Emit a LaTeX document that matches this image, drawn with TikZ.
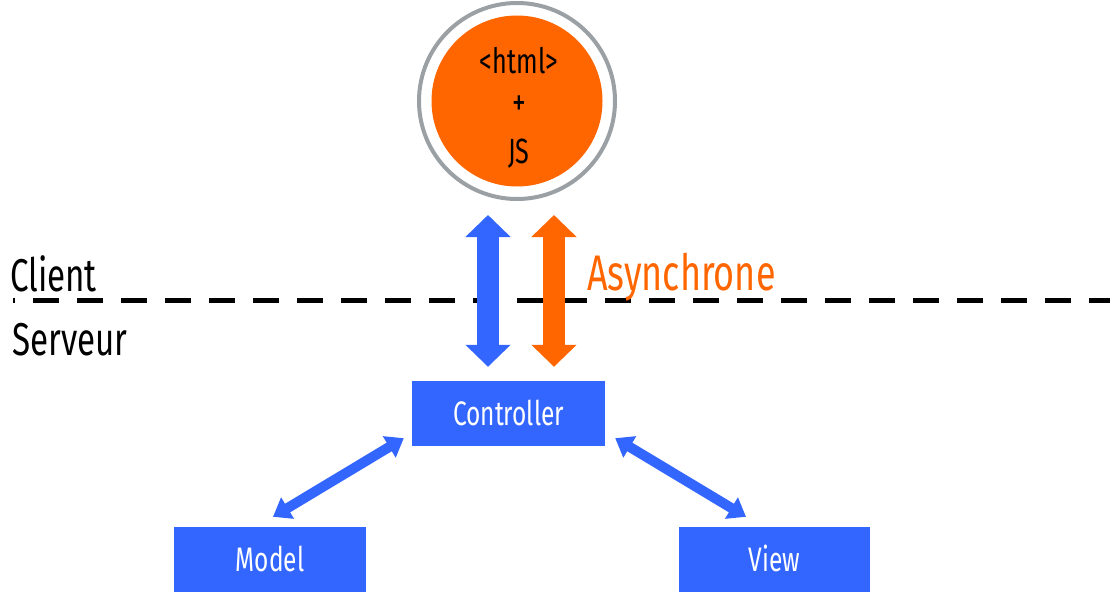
\documentclass[tikz,border=0pt]{standalone}
\usepackage{fontspec}
\setmainfont{Fira Sans}[FakeStretch=0.72]
\usetikzlibrary{arrows.meta,calc}
\definecolor{mvcblue}{HTML}{3366FF}
\definecolor{mvcorange}{HTML}{FF6600}
\definecolor{ringgray}{HTML}{9AA0A3}
\tikzset{
  mvcbox/.style={fill=mvcblue, text=white, minimum width=193pt, minimum height=65pt, inner sep=0pt, font=\fontsize{34}{40}\selectfont},
  bigarrow/.style={line width=22pt, {Triangle[width=44pt,length=22pt]}-{Triangle[width=44pt,length=22pt]}},
  smallarrow/.style={line width=10pt, mvcblue, {Triangle[width=24pt,length=17pt]}-{Triangle[width=24pt,length=17pt]}},
  sidelabel/.style={anchor=base west, inner sep=0pt, font=\fontsize{46}{52}\selectfont},
  circtext/.style={inner sep=0pt, font=\fontsize{35}{40}\selectfont}
}
\begin{document}
\begin{tikzpicture}[x=1pt,y=-1pt]
\useasboundingbox (0,0) rectangle (1110,594);
% client/server separator
\coordinate (sepL) at (13,300);
\coordinate (sepR) at (1110,300);
\draw[line width=5pt, dash pattern=on 26pt off 18pt, dash phase=24pt] (sepL) -- (sepR);
\node[sidelabel] (client) at (10,291) {Client};
\node[sidelabel] (serveur) at (12,355) {Serveur};
\node[sidelabel, text=mvcorange, font=\fontsize{50}{56}\selectfont] (async) at (587,290) {Asynchrone};
% browser circle
\node[circle, draw=ringgray, line width=4pt, minimum size=196pt, inner sep=0pt] (ring) at (517,101) {};
\node[circle, fill=mvcorange, minimum size=171pt, inner sep=0pt] (core) at (517,101) {};
\node[circtext, anchor=base] (html) at (519,74) {<html>};
\node[circtext, font=\fontsize{38}{40}\selectfont] (plus) at (519,106) {+};
\node[circtext, anchor=base] (js) at (519,163) {JS};
% boxes
\node[mvcbox] (ctrl) at (508.5,413.5) {\raisebox{2pt}{Controller}};
\node[mvcbox, minimum width=192pt] (model) at (270,559.5) {\raisebox{2pt}{Model}};
\node[mvcbox, minimum width=191pt] (view) at (774.5,559.5) {\raisebox{2pt}{View}};
% vertical arrows
\draw[bigarrow, mvcblue] ($(ring.south)+(-29,14)$) -- ($(ctrl.north)+(-20.5,-14)$);
\draw[bigarrow, mvcorange] ($(ring.south)+(37,14)$) -- ($(ctrl.north)+(45.5,-14)$);
% diagonal arrows
\draw[smallarrow] ($(ctrl.south west)+(-8,-8)$) -- ($(model.north)+(3,-10)$);
\draw[smallarrow] ($(ctrl.south east)+(10,-8)$) -- ($(view.north)+(-28.5,-10)$);
\end{tikzpicture}
\end{document}
